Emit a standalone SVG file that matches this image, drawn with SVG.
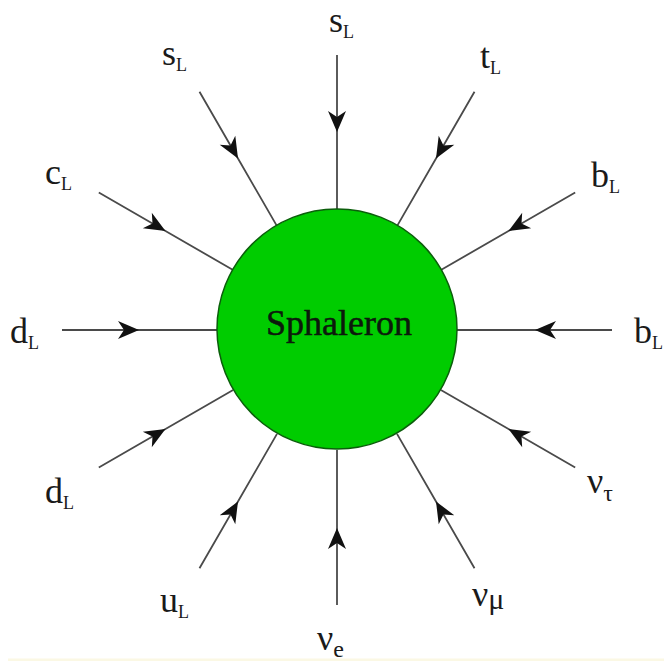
<svg xmlns="http://www.w3.org/2000/svg" width="664" height="661" viewBox="0 0 664 661">
<style>
.leg{fill:none;stroke:#4a4a4a;stroke-width:1.8;marker-mid:url(#arr)}
.lbl{font-family:"Liberation Serif","Times New Roman",serif;font-size:36px;fill:#1a1a1a}
.sub{font-size:18px}
</style>
<defs>
<marker id="arr" markerUnits="userSpaceOnUse" viewBox="-24 -12 26 24" refX="0" refY="0" markerWidth="26" markerHeight="24" orient="auto">
<path d="M0,0 L-21,-9 L-15,0 L-21,9 Z" fill="#111"/>
</marker>
</defs>
<rect width="664" height="661" fill="#fff"/>
<rect x="8" y="658.5" width="656" height="2.5" fill="#fbf8e4"/>
<g id="connectors">
<path class="leg" d="M337,55 L337,132 L337,210"/>
<path class="leg" d="M474.5,91.8 L436,158.5 L397,226.1"/>
<path class="leg" d="M575.2,192.5 L508.5,231 L440.9,270"/>
<path class="leg" d="M612,330 L535,330 L457,330"/>
<path class="leg" d="M575.2,467.5 L508.5,429 L440.9,390"/>
<path class="leg" d="M474.5,568.2 L436,501.5 L397,433.9"/>
<path class="leg" d="M337,605 L337,528 L337,450"/>
<path class="leg" d="M199.5,568.2 L238,501.5 L277,433.9"/>
<path class="leg" d="M98.8,467.5 L165.5,429 L233.1,390"/>
<path class="leg" d="M62,330 L139,330 L217,330"/>
<path class="leg" d="M98.8,192.5 L165.5,231 L233.1,270"/>
<path class="leg" d="M199.5,91.8 L238,158.5 L277,226.1"/>
</g>
<g id="sphaleron">
<circle cx="337" cy="329" r="120" fill="#00cc00" stroke="#0b5e0b" stroke-width="1.5"/>
<text x="339" y="335" text-anchor="middle" font-family="'Liberation Serif','Times New Roman',serif" font-size="36" fill="#0c1a0c" stroke="#0c1a0c" stroke-width="0.5">Sphaleron</text>
</g>
<g id="label-sL-top"><text class="lbl" x="329" y="32">s<tspan class="sub" dy="6">L</tspan></text></g>
<g id="label-tL"><text class="lbl" x="480" y="68">t<tspan class="sub" dy="6">L</tspan></text></g>
<g id="label-bL-upper"><text class="lbl" x="591" y="187">b<tspan class="sub" dy="6">L</tspan></text></g>
<g id="label-bL-right"><text class="lbl" x="634" y="343">b<tspan class="sub" dy="6">L</tspan></text></g>
<g id="label-nutau"><text class="lbl" x="587" y="493">ν<tspan font-size="24" dy="8">τ</tspan></text></g>
<g id="label-numu"><text class="lbl" x="472" y="606">ν<tspan font-size="30" dy="3">μ</tspan></text></g>
<g id="label-nue"><text class="lbl" x="317" y="650">ν<tspan font-size="24" dy="7">e</tspan></text></g>
<g id="label-uL"><text class="lbl" x="160" y="612">u<tspan class="sub" dy="6">L</tspan></text></g>
<g id="label-dL-lower"><text class="lbl" x="45" y="503">d<tspan class="sub" dy="6">L</tspan></text></g>
<g id="label-dL-left"><text class="lbl" x="10" y="343">d<tspan class="sub" dy="6">L</tspan></text></g>
<g id="label-cL"><text class="lbl" x="45" y="184">c<tspan class="sub" dy="6">L</tspan></text></g>
<g id="label-sL-upper"><text class="lbl" x="162" y="65">s<tspan class="sub" dy="6">L</tspan></text></g>
</svg>
